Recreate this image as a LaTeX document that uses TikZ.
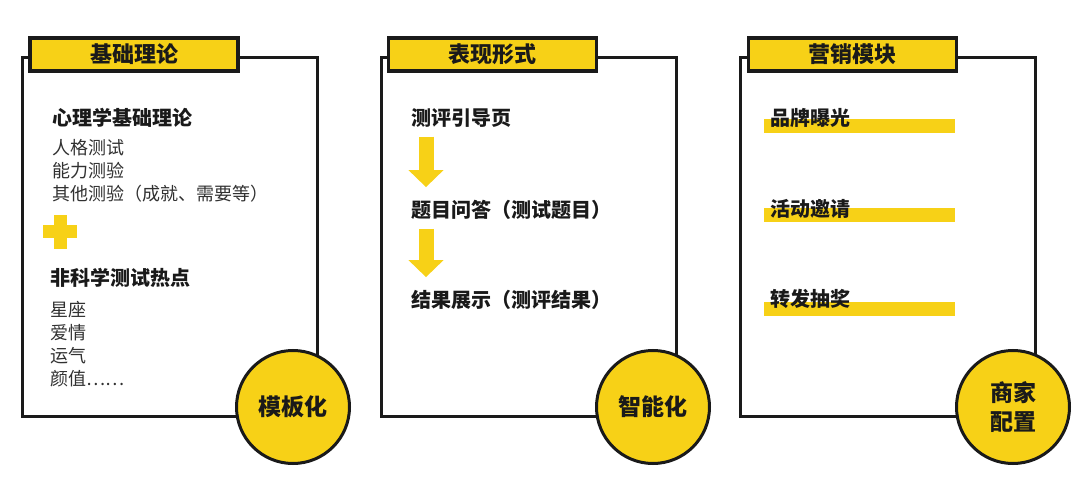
\documentclass[tikz,border=0pt]{standalone}
\usepackage{fontspec}
\setmainfont{Noto Sans CJK SC}
\usetikzlibrary{positioning,arrows.meta,calc}
\definecolor{signYellow}{HTML}{F7D117}
\definecolor{inkBlack}{HTML}{1A1A1A}

\begin{document}
\begin{tikzpicture}[x=1pt, y=-1pt,
        panelBox/.style={draw=inkBlack, line width=3pt, fill=white, minimum width=295pt, minimum height=358pt, inner sep=0pt},
        titleBar/.style={draw=inkBlack, fill=signYellow, line width=3.5pt, minimum width=208pt, minimum height=33pt, inner sep=0pt, text=inkBlack, font=\fontsize{22}{24}\selectfont\bfseries},
        stampCircle/.style={circle, draw=inkBlack, fill=signYellow, line width=3pt, minimum size=113pt, inner sep=0pt, align=center, text=inkBlack, font=\fontsize{23}{29}\selectfont\bfseries},
        headText/.style={anchor=west, inner sep=0pt, text=inkBlack, font=\fontsize{20}{24}\selectfont\bfseries},
        itemText/.style={anchor=west, inner sep=0pt, align=left, text=inkBlack!90, font=\fontsize{18}{23}\selectfont},
        hlBar/.style={fill=signYellow, minimum width=191pt, minimum height=14pt, inner sep=0pt},
        stepArrow/.style={draw=signYellow, line width=15pt, -{Triangle[width=34pt,length=17pt]}}
    ]
        \useasboundingbox (0,0) rectangle (1080,484);

        % Pannello 1: basi teoriche
        \node[panelBox] (theoryBox) at (169.5,237) {};
        \node[titleBar] (theoryTitle) at (134,54.5) {基础理论};
        \node[headText] (psyHead) at (52,118) {心理学基础理论};
        \node[itemText] (psyItems) at (52,171) {人格测试\\能力测验\\其他测验（成就、需要等）};
        \coordinate (plusMark) at (60,232);
        \fill[signYellow] ($(plusMark)+(-17,-6.5)$) rectangle ($(plusMark)+(17,6.5)$);
        \fill[signYellow] ($(plusMark)+(-6.5,-17)$) rectangle ($(plusMark)+(6.5,17)$);
        \node[headText] (funHead) at (50,278) {非科学测试热点};
        \node[itemText] (funItems) at (50,344) {星座\\爱情\\运气\\颜值……};
        \node[stampCircle] (theoryStamp) at (293,407) {模板化};

        % Pannello 2: forma
        \node[panelBox] (formBox) at (528.5,237) {};
        \node[titleBar] (formTitle) at (492.5,54.5) {表现形式};
        \node[headText] (flowStart) at (411,118) {测评引导页};
        \node[headText] (flowQuiz) at (411,210) {题目问答（测试题目）};
        \node[headText] (flowResult) at (411,300) {结果展示（测评结果）};
        \draw[stepArrow, shorten <=9pt, shorten >=13pt] ([xshift=15pt]flowStart.south west) -- ([xshift=15pt]flowQuiz.north west);
        \draw[stepArrow, shorten <=9pt, shorten >=13pt] ([xshift=15pt]flowQuiz.south west) -- ([xshift=15pt]flowResult.north west);
        \node[stampCircle] (formStamp) at (653,407) {智能化};

        % Pannello 3: marketing
        \node[panelBox] (marketBox) at (887.5,237) {};
        \node[titleBar] (marketTitle) at (852.5,54.5) {营销模块};
        \node[hlBar] (brandBar) at (859.5,126) {};
        \node[hlBar] (inviteBar) at (859.5,215) {};
        \node[hlBar] (shareBar) at (859.5,309) {};
        \node[headText] (brandText) at (770,118) {品牌曝光};
        \node[headText] (inviteText) at (770,209) {活动邀请};
        \node[headText] (shareText) at (770,299) {转发抽奖};
        \node[stampCircle] (marketStamp) at (1013,407) {商家\\配置};
    \end{tikzpicture}
\end{document}
